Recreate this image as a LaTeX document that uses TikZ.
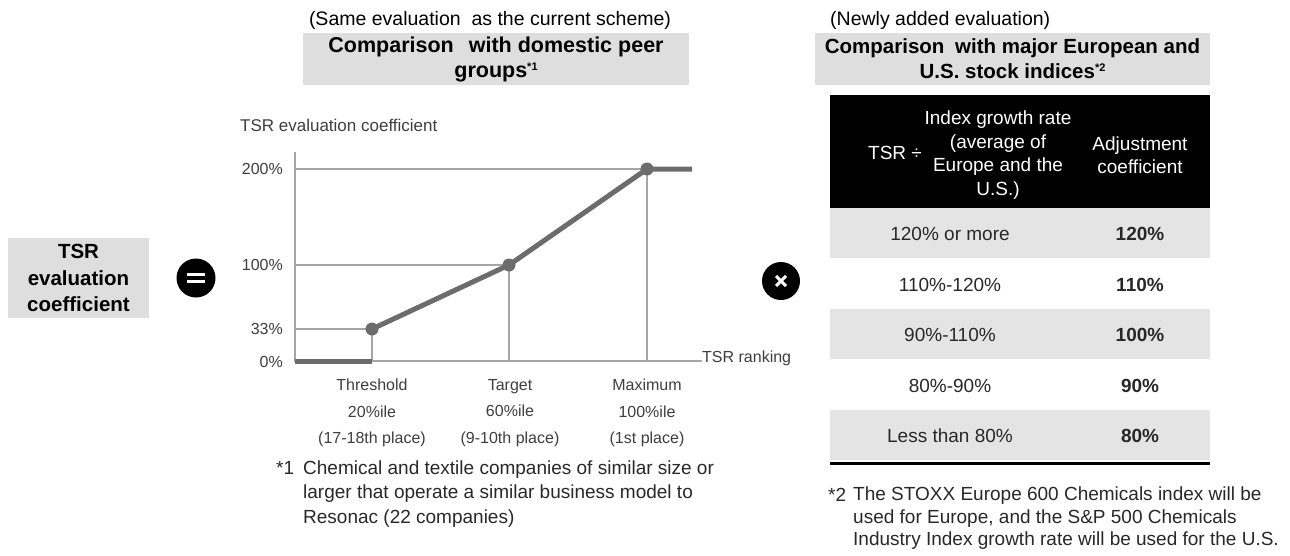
\documentclass[tikz,border=0pt]{standalone}
\usepackage{fontspec}
\setmainfont{Liberation Sans}
\definecolor{boxgray}{RGB}{222,222,223}
\definecolor{rowgray}{RGB}{228,228,228}
\definecolor{curve}{RGB}{108,108,108}
\definecolor{gridgray}{RGB}{165,165,165}
\definecolor{ink}{RGB}{40,40,40}
\definecolor{chartink}{RGB}{62,62,62}
\newcommand\fsz[2]{\fontsize{#1}{#2}\selectfont}
\newcommand\supmark[1]{\raisebox{7pt}{\fsz{11}{11}#1}}

\begin{document}
\begin{tikzpicture}[x=1pt,y=-1pt,
  txt/.style={inner sep=0pt, text=ink, font=\fsz{19}{23.5}},
  chart/.style={inner sep=0pt, text=chartink, font=\fsz{16}{26.5}},
  headbox/.style={fill=boxgray, inner sep=0pt, minimum height=52pt, align=center, text=black, font=\fsz{20.5}{25}\bfseries},
  rowbox/.style={inner sep=0pt, minimum width=380pt, minimum height=50.4pt},
  thin/.style={draw=gridgray, line width=1.1pt},
  thick/.style={draw=curve, line width=5pt},
  dot/.style={circle, fill=curve, inner sep=0pt, minimum size=13pt},
  opcircle/.style={circle, fill=black, inner sep=0pt, minimum size=39pt},
  opmark/.style={white, line width=2.6pt}]
\useasboundingbox (0,0) rectangle (1290,555);

% ---- left-hand term ----
\node[fill=boxgray, minimum width=141pt, minimum height=80pt, inner sep=0pt, align=center,
      font=\fsz{20.5}{26.5}\bfseries, text=black] (tsr) at (78.5,278) {TSR\\evaluation\\coefficient};

% equals sign
\node[opcircle] (eq) at (196,278) {};
\draw[opmark] ([shift={(-9pt,3.6pt)}]eq.center) -- ([shift={(9pt,3.6pt)}]eq.center);
\draw[opmark] ([shift={(-9pt,-3.6pt)}]eq.center) -- ([shift={(9pt,-3.6pt)}]eq.center);

% ---- domestic peer comparison ----
\node[txt, text=black, font=\fsz{19.5}{23}] (sub1) at (490,20) {(Same evaluation\ \ as the current scheme)};
\node[headbox, minimum width=386pt, font=\fsz{21.5}{25}\bfseries] (head1) at (496,59)
  {Comparison\hspace{9pt} with domestic peer\\groups\supmark{*1}};

% chart frame
\coordinate (origin) at (295,361);
\coordinate (ytop) at (295,152);
\coordinate (xend) at (702,361);
\coordinate (thr) at (372,329);
\coordinate (tgt) at (509,265);
\coordinate (max) at (647,169);
\coordinate (cap) at (692,169);

\draw[thin] (ytop) -- (origin) -- (xend);
\draw[thin] (origin |- thr) -- (thr) -- (thr |- origin);
\draw[thin] (origin |- tgt) -- (tgt) -- (tgt |- origin);
\draw[thin] (origin |- max) -- (max) -- (max |- origin);

% evaluation curve
\draw[thick] (origin) -- (thr |- origin);
\draw[thick, line join=round] (thr) -- (tgt) -- (max) -- (cap);
\node[dot] (dthr) at (thr) {};
\node[dot] (dtgt) at (tgt) {};
\node[dot] (dmax) at (max) {};

% axis labels
\node[chart, font=\fsz{17}{20}, anchor=west] (ytitle) at (240,125) {TSR evaluation coefficient};
\node[chart, anchor=east] (y200) at (283,169) {200\%};
\node[chart, anchor=east] (y100) at (283,265) {100\%};
\node[chart, anchor=east] (y33) at (283,329) {33\%};
\node[chart, anchor=east] (y0) at (283,362) {0\%};
\node[chart, anchor=base west] (xtitle) at (702,362) {TSR ranking};

\node[chart, align=center] (lthr) at (372,413) {Threshold\\20\%ile\\(17-18th place)};
\node[chart, align=center] (ltgt) at (510,413) {Target\\60\%ile\\(9-10th place)};
\node[chart, align=center] (lmax) at (647,413) {Maximum\\100\%ile\\(1st place)};

% footnote 1
\node[txt, anchor=west] (fn1m) at (276,468) {*1};
\node[txt, anchor=west, align=left, font=\fsz{19}{24.5}] (fn1) at (303,494)
  {Chemical and textile companies of similar size or\\larger that operate a similar business model to\\Resonac (22 companies)};

% multiplication sign
\node[opcircle, minimum size=38pt] (times) at (781,281) {};
\draw[opmark, line width=3pt] ([shift={(-5pt,-5pt)}]times.center) -- ([shift={(5pt,5pt)}]times.center);
\draw[opmark, line width=3pt] ([shift={(-5pt,5pt)}]times.center) -- ([shift={(5pt,-5pt)}]times.center);

% ---- European / U.S. index comparison ----
\node[txt, text=black, font=\fsz{19.5}{23}, anchor=west] (sub2) at (830,20) {(Newly added evaluation)};
\node[headbox, minimum width=395pt] (head2) at (1012.5,59)
  {Comparison\hspace{5pt} with major European and\\U.S. stock indices\supmark{*2}};

% table header
\node[rowbox, fill=black, minimum height=113pt] (th) at (1020,151.5) {};
\node[txt, text=white, anchor=west] (thA) at (868,153) {TSR ÷};
\node[txt, text=white, align=center] (thB) at (998,155) {Index growth rate\\(average of\\Europe and the\\U.S.)};
\node[txt, text=white, align=center] (thC) at (1140,155) {Adjustment\\coefficient};

% table rows
\node[rowbox, fill=rowgray] (r1) at (1020,233) {};
\node[rowbox] (r2) at (1020,283.5) {};
\node[rowbox, fill=rowgray] (r3) at (1020,334) {};
\node[rowbox] (r4) at (1020,384.5) {};
\node[rowbox, fill=rowgray] (r5) at (1020,435) {};

\node[txt] (a1) at ([yshift=-1pt]r1.center -| 950,0) {120\% or more};
\node[txt] (a2) at ([yshift=-1pt]r2.center -| 950,0) {110\%-120\%};
\node[txt] (a3) at ([yshift=-1pt]r3.center -| 950,0) {90\%-110\%};
\node[txt] (a4) at ([yshift=-1pt]r4.center -| 950,0) {80\%-90\%};
\node[txt] (a5) at ([yshift=-1pt]r5.center -| 950,0) {Less than 80\%};

\node[txt, font=\fsz{19}{23}\bfseries] (b1) at ([yshift=-1pt]r1.center -| 1140,0) {120\%};
\node[txt, font=\fsz{19}{23}\bfseries] (b2) at ([yshift=-1pt]r2.center -| 1140,0) {110\%};
\node[txt, font=\fsz{19}{23}\bfseries] (b3) at ([yshift=-1pt]r3.center -| 1140,0) {100\%};
\node[txt, font=\fsz{19}{23}\bfseries] (b4) at ([yshift=-1pt]r4.center -| 1140,0) {90\%};
\node[txt, font=\fsz{19}{23}\bfseries] (b5) at ([yshift=-1pt]r5.center -| 1140,0) {80\%};

\draw[line width=3pt] (r5.south west |- 0,463) -- (r5.south east |- 0,463);

% footnote 2
\node[txt, anchor=west] (fn2m) at (828,495) {*2};
\node[txt, anchor=west, align=left, font=\fsz{19}{22.5}] (fn2) at (853,518.5)
  {The STOXX Europe 600 Chemicals index will be\\used for Europe, and the S\&P 500 Chemicals\\Industry Index growth rate will be used for the U.S.};
\end{tikzpicture}
\end{document}
